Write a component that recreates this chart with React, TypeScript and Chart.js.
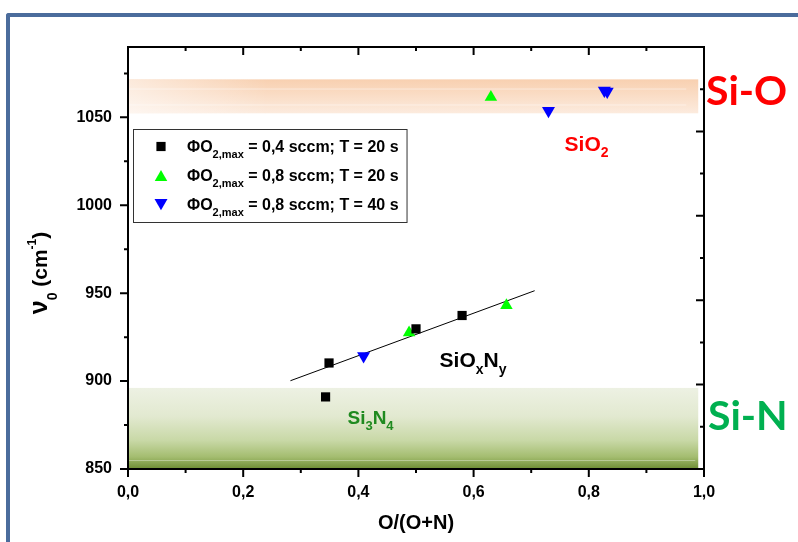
import React, { useEffect, useRef } from 'react';
import { Chart, registerables } from 'chart.js';

Chart.register(...registerables);

// ---- data ----
const blackX = [0.343, 0.349, 0.5, 0.58];
const blackY = [891.0, 910.3, 929.7, 937.3];
const greenX = [0.488, 0.657, 0.63];
const greenY = [927.5, 943.0, 1061.5];
const blueX = [0.409, 0.73, 0.827, 0.832];
const blueY = [914.2, 1053.7, 1065.3, 1064.7];
const fitX = [0.282, 0.706];
const fitY = [900.2, 951.4];
const xTickLabels = [0, 0.2, 0.4, 0.6, 0.8, 1.0];
const yTickLabels = [850, 900, 950, 1000, 1050];
const siOBand = [1052.3, 1071.6];
const siNBand = [850, 896.1];
const bandXEnd = 0.99;
const legendFlow = ['0,4', '0,8', '0,8'];
const legendTime = ['20', '20', '40'];

const F = "'Liberation Sans', Arial, Helvetica, sans-serif";
const FB = "Lato, 'Open Sans', sans-serif";
const fnt = (size: number, fam: string = F) => `bold ${size}px ${fam}`;

type Seg = { t: string; size: number; dy?: number };

function segsWidth(ctx: CanvasRenderingContext2D, segs: Seg[], fam = F) {
  let w = 0;
  for (const s of segs) {
    ctx.font = fnt(s.size, fam);
    w += ctx.measureText(s.t).width;
  }
  return w;
}

function drawSegs(ctx: CanvasRenderingContext2D, x: number, y: number, segs: Seg[], color: string, fam = F) {
  let cx = x;
  ctx.fillStyle = color;
  ctx.textAlign = 'left';
  ctx.textBaseline = 'alphabetic';
  for (const s of segs) {
    ctx.font = fnt(s.size, fam);
    ctx.fillText(s.t, cx, y + (s.dy || 0));
    cx += ctx.measureText(s.t).width;
  }
  return cx - x;
}

function marker(ctx: CanvasRenderingContext2D, kind: string, x: number, y: number) {
  ctx.beginPath();
  if (kind === 'rect') {
    const s = 6.5 * Math.SQRT1_2;
    ctx.rect(x - s, y - s, 2 * s, 2 * s);
    ctx.fillStyle = '#000000';
  } else if (kind === 'up') {
    const r = 7.2;
    const yc = y + r / 4;
    ctx.moveTo(x, yc - r);
    ctx.lineTo(x + r * 0.866, yc + r / 2);
    ctx.lineTo(x - r * 0.866, yc + r / 2);
    ctx.fillStyle = '#00ff00';
  } else {
    const r = 7.5;
    const yc = y - r / 4;
    ctx.moveTo(x, yc + r);
    ctx.lineTo(x + r * 0.866, yc - r / 2);
    ctx.lineTo(x - r * 0.866, yc - r / 2);
    ctx.fillStyle = '#0000ff';
  }
  ctx.closePath();
  ctx.fill();
}

const decor = {
  id: 'decor',
  beforeDatasetsDraw(chart: any) {
    const ctx: CanvasRenderingContext2D = chart.ctx;
    const xs = chart.scales.x;
    const ys = chart.scales.y;
    const xL = xs.getPixelForValue(0);
    const xR = xs.getPixelForValue(bandXEnd);
    ctx.save();
    // Si-O band
    let yT = ys.getPixelForValue(siOBand[1]);
    let yB = ys.getPixelForValue(siOBand[0]);
    let g = ctx.createLinearGradient(0, yT, 0, yB);
    g.addColorStop(0, '#f8d0b0');
    g.addColorStop(1, '#fcebde');
    ctx.fillStyle = g;
    ctx.fillRect(xL, yT, xR - xL, yB - yT);
    let h = ctx.createLinearGradient(xL, 0, xL + 140, 0);
    h.addColorStop(0, 'rgba(255,255,255,0.55)');
    h.addColorStop(1, 'rgba(255,255,255,0)');
    ctx.fillStyle = h;
    ctx.fillRect(xL, yT, 140, yB - yT);
    ctx.fillStyle = 'rgba(255,255,255,0.45)';
    ctx.fillRect(xL, yT + (yB - yT) * 0.27, xR - xL - 12, 1);
    ctx.fillRect(xL, yT + (yB - yT) * 0.74, xR - xL - 12, 1);
    // Si-N band
    yT = ys.getPixelForValue(siNBand[1]);
    yB = ys.getPixelForValue(siNBand[0]);
    g = ctx.createLinearGradient(0, yT, 0, yB);
    g.addColorStop(0, '#edf1e3');
    g.addColorStop(0.35, '#e2e9d0');
    g.addColorStop(0.65, '#c8d8a6');
    g.addColorStop(0.85, '#a4bd70');
    g.addColorStop(1, '#6d8d33');
    ctx.fillStyle = g;
    ctx.fillRect(xL, yT, xR - xL, yB - yT);
    ctx.fillStyle = 'rgba(255,255,255,0.35)';
    ctx.fillRect(xL, yB - 9, xR - xL - 3, 1);
    ctx.restore();
  },
  afterDatasetsDraw(chart: any) {
    const ctx: CanvasRenderingContext2D = chart.ctx;
    const xs = chart.scales.x;
    const ys = chart.scales.y;
    const y2 = chart.scales.y2;
    const { left, right, top, bottom } = chart.chartArea;
    ctx.save();

    // annotations inside plot
    drawSegs(ctx, xs.getPixelForValue(0.758), ys.getPixelForValue(1030.6),
      [{ t: 'SiO', size: 21 }, { t: '2', size: 14, dy: 6 }], '#ff0000');
    drawSegs(ctx, xs.getPixelForValue(0.541), ys.getPixelForValue(908.2),
      [{ t: 'SiO', size: 21 }, { t: 'x', size: 14, dy: 7 }, { t: 'N', size: 21 }, { t: 'y', size: 14, dy: 7 }], '#000000');
    drawSegs(ctx, xs.getPixelForValue(0.381), ys.getPixelForValue(875.8),
      [{ t: 'Si', size: 19 }, { t: '3', size: 13, dy: 6 }, { t: 'N', size: 19 }, { t: '4', size: 13, dy: 6 }], '#1f8a1f');

    // side labels
    ctx.font = fnt(41, FB);
    ctx.fillStyle = '#ff0000';
    ctx.textAlign = 'left';
    ctx.textBaseline = 'alphabetic';
    ctx.fillText('Si-O', right + 2, ys.getPixelForValue(1050) - 12);
    ctx.fillStyle = '#00b050';
    ctx.fillText('Si-N', right + 4, ys.getPixelForValue(900) + 49);

    // legend
    const lx = left + 5;
    const ly = top + 82;
    const rows = legendFlow.map((f, i): Seg[] => [
      { t: 'ΦO', size: 16 },
      { t: '2,max', size: 11, dy: 6 },
      { t: ` = ${f} sccm; T = ${legendTime[i]} s`, size: 16 },
    ]);
    const textX = lx + 54;
    let maxW = 0;
    rows.forEach((r) => { maxW = Math.max(maxW, segsWidth(ctx, r)); });
    const boxW = textX + maxW + 8 - lx;
    ctx.fillStyle = '#ffffff';
    ctx.fillRect(lx, ly, boxW, 93);
    ctx.strokeStyle = '#333333';
    ctx.lineWidth = 1;
    ctx.strokeRect(lx + 0.5, ly + 0.5, boxW, 93);
    const kinds = ['rect', 'up', 'down'];
    rows.forEach((r, i) => {
      const cy = ly + 17.5 + i * 29;
      marker(ctx, kinds[i], lx + 28, cy);
      drawSegs(ctx, textX, cy + 5, r, '#000000');
    });

    // axis titles
    ctx.font = fnt(20);
    ctx.fillStyle = '#000000';
    ctx.textAlign = 'center';
    ctx.fillText('O/(O+N)', (left + right) / 2, 529);

    const ySegs: Seg[] = [
      { t: 'ν', size: 25 },
      { t: '0', size: 14, dy: 10 },
      { t: ' (cm', size: 21 },
      { t: '-1', size: 12, dy: -11 },
      { t: ')', size: 21 },
    ];
    const yw = segsWidth(ctx, ySegs);
    ctx.translate(47, (top + bottom) / 2 + 15);
    ctx.rotate(-Math.PI / 2);
    drawSegs(ctx, -yw / 2, 0, ySegs, '#000000');
    ctx.setTransform(1, 0, 0, 1, 0, 0);

    // frame
    ctx.strokeStyle = '#000000';
    ctx.lineWidth = 2;
    ctx.strokeRect(left, top, right - left, bottom - top);
    ctx.beginPath();
    for (let i = 0; i <= 10; i++) {
      const x = xs.getPixelForValue(i / 10);
      const len = i % 2 === 0 ? 8 : 4;
      ctx.moveTo(x, bottom);
      ctx.lineTo(x, bottom + len);
      ctx.moveTo(x, top);
      ctx.lineTo(x, top + len);
    }
    for (let v = 850; v <= 1075; v += 25) {
      const y = ys.getPixelForValue(v);
      const len = (v - 850) % 50 === 0 ? 8 : 4;
      ctx.moveTo(left - len, y);
      ctx.lineTo(left, y);
    }
    for (let i = 1; i < 10; i++) {
      const y = y2.getPixelForValue(i);
      const len = i % 2 === 0 ? 8 : 4;
      ctx.moveTo(right - len, y);
      ctx.lineTo(right, y);
    }
    ctx.stroke();
    ctx.restore();
  },
};

export default function App() {
  const ref = useRef<HTMLCanvasElement>(null);
  useEffect(() => {
    const chart = new Chart(ref.current as HTMLCanvasElement, {
      type: 'scatter',
      data: {
        datasets: [
          {
            type: 'line',
            data: fitX.map((x, i) => ({ x, y: fitY[i] })),
            borderColor: '#000000',
            borderWidth: 1,
            pointRadius: 0,
            order: 10,
          } as any,
          {
            data: blackX.map((x, i) => ({ x, y: blackY[i] })),
            pointStyle: 'rect',
            pointRadius: 6.5,
            pointBackgroundColor: '#000000',
            pointBorderWidth: 0,
            order: 1,
          },
          {
            data: greenX.map((x, i) => ({ x, y: greenY[i] })),
            pointStyle: 'triangle',
            pointRadius: 7.2,
            pointBackgroundColor: '#00ff00',
            pointBorderWidth: 0,
            order: 1,
          },
          {
            data: blueX.map((x, i) => ({ x, y: blueY[i] })),
            pointStyle: 'triangle',
            pointRotation: 180,
            pointRadius: 7.5,
            pointBackgroundColor: '#0000ff',
            pointBorderWidth: 0,
            order: 1,
          },
        ],
      },
      options: {
        animation: false,
        responsive: false,
        layout: { padding: { top: 47, left: 0, right: 0, bottom: 0 } },
        plugins: { legend: { display: false }, tooltip: { enabled: false } },
        scales: {
          x: {
            type: 'linear',
            position: 'bottom',
            min: 0,
            max: 1,
            grid: { display: false },
            border: { display: false },
            ticks: {
              stepSize: 0.2,
              autoSkip: false,
              maxRotation: 0,
              padding: 6,
              color: '#000000',
              font: { family: F, size: 16, weight: 'bold' },
              callback: (v: any) => {
                const n = Number(v);
                return xTickLabels.some((t) => Math.abs(t - n) < 1e-6) ? n.toFixed(1).replace('.', ',') : '';
              },
            },
            afterFit: (s: any) => { s.height = 73; },
          },
          y: {
            type: 'linear',
            position: 'left',
            min: 850,
            max: 1090,
            grid: { display: false },
            border: { display: false },
            ticks: {
              stepSize: 50,
              padding: 8,
              color: '#000000',
              font: { family: F, size: 16, weight: 'bold' },
              callback: (v: any) => (yTickLabels.includes(Number(v)) ? String(v) : ''),
            },
            afterBuildTicks: (s: any) => { s.ticks = s.ticks.filter((t: any) => yTickLabels.includes(t.value)); },
            afterFit: (s: any) => { s.width = 128; },
          },
          y2: {
            type: 'linear',
            position: 'right',
            min: 0,
            max: 10,
            grid: { display: false },
            border: { display: false },
            ticks: { display: false, stepSize: 1 },
            afterFit: (s: any) => { s.width = 94; },
          },
        },
      } as any,
      plugins: [decor as any],
    });
    return () => chart.destroy();
  }, []);
  return (
    <div style={{ position: 'fixed', left: 0, top: 0, width: 798, height: 542, overflow: 'hidden', background: '#ffffff' }}>
      <div
        style={{
          position: 'absolute',
          left: 6,
          top: 13,
          width: 840,
          height: 600,
          borderLeft: '4px solid #4b6c9c',
          borderTop: '4px solid #4b6c9c',
          borderTopLeftRadius: 3,
          boxSizing: 'border-box',
        }}
      />
      <canvas ref={ref} width={798} height={542} style={{ position: 'absolute', left: 0, top: 0 }} />
    </div>
  );
}
